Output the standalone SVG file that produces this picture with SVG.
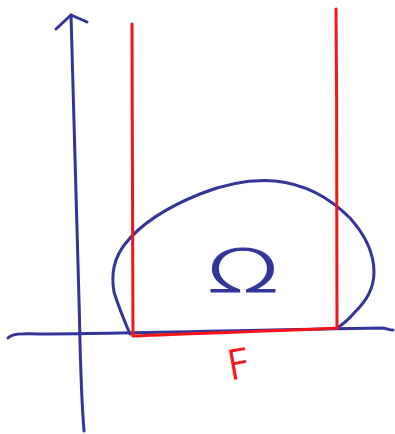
<svg xmlns="http://www.w3.org/2000/svg" width="395" height="434" viewBox="0 0 395 434">
<style>
.blue{fill:none;stroke:#33359a;stroke-width:3;stroke-linecap:round;stroke-linejoin:round}
.red{fill:none;stroke:#f5141a;stroke-width:3;stroke-linecap:round;stroke-linejoin:round}
.lbl-b{font-family:"DejaVu Sans",sans-serif;font-weight:200;fill:#33359a;stroke:#33359a;stroke-width:1.2}
.lbl-r{font-family:"DejaVu Sans",sans-serif;font-weight:200;fill:#f5141a;stroke:#f5141a;stroke-width:1.2}
</style>
<rect width="395" height="434" fill="#ffffff"/>
<g id="axes">
<path class="blue" d="M84,431 C80,380 80,330 79,300 C76,200 73,100 71,15"/>
<path class="blue" d="M56,29 L71,15 L87,22"/>
<path class="blue" d="M8,338 C12,334 20,333 40,334 C120,334 250,330 383,328 C388,329 390,330 393,330"/>
</g>
<g id="omega-region">
<path class="blue" d="M130,334 C124,320 118,305 114,292 C111,275 114,258 125,244 C140,225 165,208 200,194 C225,184 250,179 275,181 C305,184 330,198 350,218 C366,236 374,255 374,272 C374,290 365,302 355,312 C348,320 342,325 337,328"/>
</g>
<g id="strip">
<path class="red" d="M132,24 C132,120 133,250 133,336"/>
<path class="red" d="M336,9 C337,120 337,250 337,328"/>
<path class="red" d="M133,336 C200,333 280,331 337,328"/>
</g>
<g id="labels">
<text class="lbl-b" x="206" y="292" font-size="58" textLength="74" lengthAdjust="spacingAndGlyphs">Ω</text>
<text class="lbl-r" x="227" y="378" font-size="40" transform="rotate(-10 240 362)">F</text>
</g>
</svg>
